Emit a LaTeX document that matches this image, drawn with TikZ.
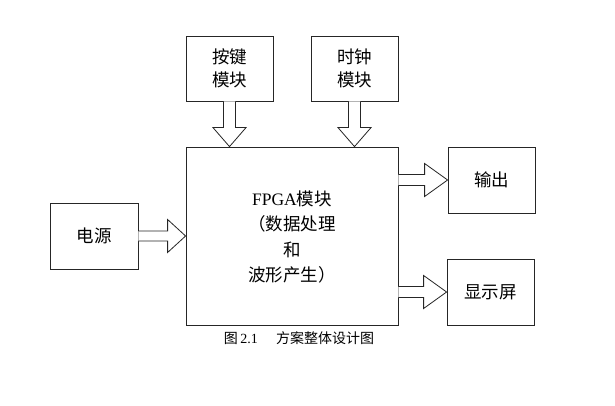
\documentclass[tikz,border=0pt]{standalone}
\usepackage{fontspec}
\setmainfont{Liberation Serif}
\newfontfamily\cjk{Noto Sans CJK SC}
\usetikzlibrary{calc}
\begin{document}
\begin{tikzpicture}[x=1pt,y=-1pt,
  blk/.style={draw=black!85,line width=0.8pt,fill=white,inner sep=0pt,
    font=\fontsize{17.5}{23}\selectfont\cjk,align=center},
  barrow/.style={draw=black!85,line width=0.8pt,fill=white,line join=miter},
  capt/.style={font=\fontsize{14}{16}\selectfont,inner sep=0pt}]
\useasboundingbox (0,0) rectangle (615,406);
\fill[white] (0,0) rectangle (615,406);
\node[blk,minimum width=87pt,minimum height=65pt] (key) at (229.5,68.5) {按键\\模块};
\node[blk,minimum width=87pt,minimum height=65pt] (clk) at (354.5,68.5) {时钟\\模块};
\node[blk,minimum width=212pt,minimum height=178pt,font=\fontsize{17.5}{25.5}\selectfont,text depth=0pt] (fpga) at (292,236)
  {\rmfamily FPGA{\cjk 模块}\\{\cjk （数据处理}\\{\cjk 和}\\{\cjk 波形产生）}};
\node[blk,minimum width=87pt,minimum height=66pt] (out) at (491.5,180) {输出};
\node[blk,minimum width=87pt,minimum height=66pt] (disp) at (490.5,292) {显示屏};
\node[blk,minimum width=88pt,minimum height=66pt] (pwr) at (94,236) {电源};
\node[capt] (cap) at (299,338) {{\cjk 图}\,2.1\hspace{1.3em}{\cjk 方案整体设计图}};
% down arrows
\foreach \a in {key,clk}{
  \draw[barrow] ($(\a.south)+(-6,0)$) -- ($(\a.south|-fpga.north)+(-6,-19)$)
    -- ($(\a.south|-fpga.north)+(-16.5,-19)$) -- (\a.south|-fpga.north)
    -- ($(\a.south|-fpga.north)+(16.5,-19)$) -- ($(\a.south|-fpga.north)+(6,-19)$)
    -- ($(\a.south)+(6,0)$);
}
% right arrows from fpga
\coordinate (o1) at (fpga.east|-out.west);
\coordinate (o2) at (fpga.east|-disp.west);
\draw[barrow] ($(o1)+(0,-5.5)$) -- ($(out.west)+(-23,-5.5)$) -- ($(out.west)+(-23,-16.5)$)
  -- (out.west) -- ($(out.west)+(-23,16.5)$) -- ($(out.west)+(-23,5.5)$) -- ($(o1)+(0,5.5)$);
\draw[barrow] ($(o2)+(0,-5.5)$) -- ($(disp.west)+(-23,-5.5)$) -- ($(disp.west)+(-23,-16.5)$)
  -- (disp.west) -- ($(disp.west)+(-23,16.5)$) -- ($(disp.west)+(-23,5.5)$) -- ($(o2)+(0,5.5)$);
% power arrow
\draw[barrow] ($(pwr.east)+(0,-5)$) -- ($(pwr.east-|fpga.west)+(-18,-5)$) -- ($(pwr.east-|fpga.west)+(-18,-16.5)$)
  -- (pwr.east-|fpga.west) -- ($(pwr.east-|fpga.west)+(-18,16.5)$) -- ($(pwr.east-|fpga.west)+(-18,5)$) -- ($(pwr.east)+(0,5)$);
\end{tikzpicture}
\end{document}
